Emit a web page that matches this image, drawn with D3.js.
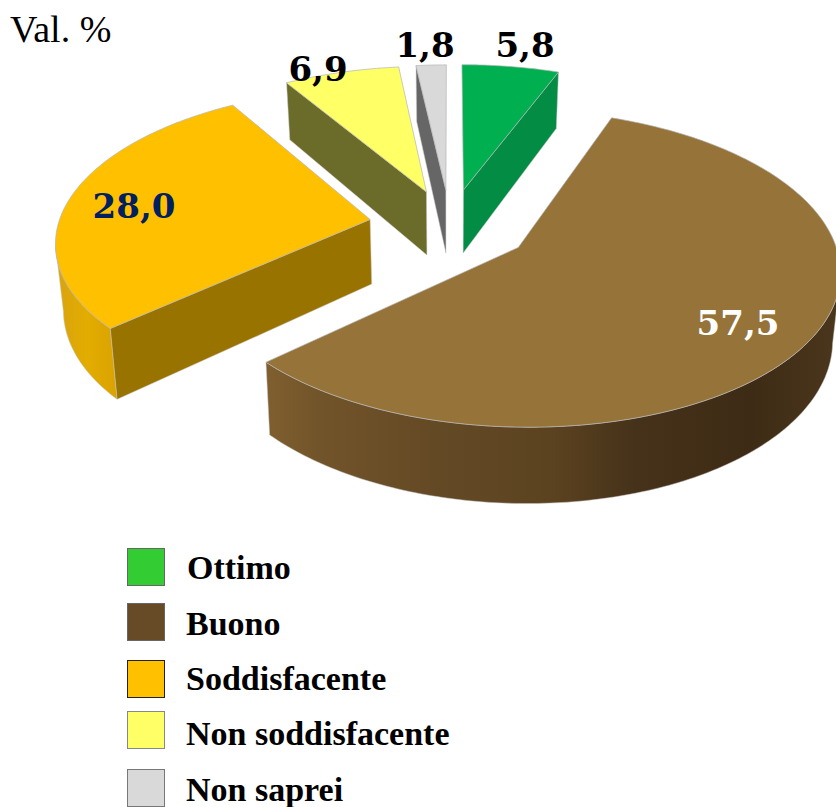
<!DOCTYPE html>
<html><head><meta charset="utf-8">
<script src="https://cdn.jsdelivr.net/npm/d3@7"></script>
<style>html,body{margin:0;padding:0;background:#fff}svg{display:block}</style>
</head><body><svg id="c" width="836" height="807"></svg>
<script>
// data
const categories = ["Ottimo","Buono","Soddisfacente","Non soddisfacente","Non saprei"];
const values = [5.8,57.5,28.0,6.9,1.8];
const valueLabels = ["5,8","57,5","28,0","6,9","1,8"];
const yAxisTitle = "Val. %";
// styles
const topColors = ["#00B050","#967338","#FFC000","#FFFF66","#D9D9D9"];
const wallColors = ["#038C43","#604622","#997300","#6B6B2A","#666666"];
const legendColors = ["#33CC33","#664B26","#FFC000","#FFFF66","#D9D9D9"];
const legendStrokes = ["#666","#666","#222","#888","#777"];
const labelColors = ["#000","#fff","#002060","#000","#000"];
// layout: projection of the pie plane
const cx=450, cy=225, A=312, B=150, persp=0.13, depth=65, baseShrink=0.98;
const explode=[0.245,0.26,0.26,0.24,0.24];
const drawOrder=[3,4,0,2,1];
const labelAnchors=[[525,57],[738,335],[134,218],[318,81],[425,57]];
const legendTops=[548,603,660,711,769];
const legendBaselines=[579,635,690,745,801];
const legendTextX=[187,186,186,186,186];

const svg=d3.select("#c");
const sx=d3.scaleLinear().domain([-1,1]).range([cx-A,cx+A]);
const sy=d3.scaleLinear().domain([-1,1]).range([cy+B,cy-B]);
function proj(px,py,bottom){
  const W=1+persp*py;
  const x=sx(px/W), y=sy(py/W);
  if(!bottom) return [x,y];
  return [cx+(x-cx)*baseShrink, y+depth/W];
}
const pie=d3.pie().sort(null).startAngle(0).endAngle(2*Math.PI);
const arcs=pie(values);
const line=d3.line().curve(d3.curveLinear);
function area2(p){let s=0;p.forEach((a,i)=>{const b=p[(i+1)%p.length];s+=a[0]*b[1]-b[0]*a[1]});return s/2;}

const defs=svg.append("defs");
const grad=defs.append("linearGradient").attr("id","brownWall")
  .attr("gradientUnits","userSpaceOnUse").attr("x1",262).attr("x2",836).attr("y1",0).attr("y2",0);
[[0,"#80602F"],[0.1,"#72542A"],[0.3,"#644925"],[0.5,"#5C4320"],[0.65,"#46321A"],[0.85,"#3E2B15"],[1,"#4A361C"]]
  .forEach(d=>grad.append("stop").attr("offset",d[0]).attr("stop-color",d[1]));
const og=defs.append("linearGradient").attr("id","orangeWall")
  .attr("gradientUnits","userSpaceOnUse").attr("x1",58).attr("x2",118).attr("y1",0).attr("y2",0);
[[0,"#D9A40E"],[0.5,"#E3AC00"],[1,"#D9A200"]].forEach(d=>og.append("stop").attr("offset",d[0]).attr("stop-color",d[1]));
const curvedFill=i=>i===1?"url(#brownWall)":i===2?"url(#orangeWall)":wallColors[i];

const g=svg.append("g");
drawOrder.forEach(i=>{
  const a=arcs[i], mid=(a.startAngle+a.endAngle)/2;
  const ox=explode[i]*Math.sin(mid), oy=explode[i]*Math.cos(mid);
  const pt=(t,r,b)=>proj(ox+r*Math.sin(t),oy+r*Math.cos(t),b);
  const n=Math.max(8,Math.round((a.endAngle-a.startAngle)*60));
  const ts=d3.range(n+1).map(k=>a.startAngle+(a.endAngle-a.startAngle)*k/n);
  // curved outer wall: only the part whose x runs leftward as the angle grows
  const vis=ts.filter((t,k)=>{
    const next=ts[Math.min(k+1,n)],prev=ts[Math.max(k-1,0)];
    return pt(next,1)[0]<pt(prev,1)[0];
  });
  if(vis.length>1){
    const poly=vis.map(t=>pt(t,1)).concat(vis.slice().reverse().map(t=>pt(t,1,true)));
    g.append("path").attr("d",line(poly)+"Z").attr("fill",curvedFill(i)).attr("stroke","#c8c8c8").attr("stroke-width",0.5);
  }
  // radial walls, with back-face culling
  const qs=[[pt(0,0),pt(a.startAngle,1),pt(a.startAngle,1,true),pt(0,0,true)],
            [pt(0,0),pt(a.endAngle,1),pt(a.endAngle,1,true),pt(0,0,true)]];
  if(area2(qs[0])<-200) g.append("path").attr("d",line(qs[0])+"Z").attr("fill",wallColors[i]).attr("stroke","#c8c8c8").attr("stroke-width",0.5);
  if(area2(qs[1])>200) g.append("path").attr("d",line(qs[1])+"Z").attr("fill",wallColors[i]).attr("stroke","#c8c8c8").attr("stroke-width",0.5);
  // top face
  const top=[pt(0,0)].concat(ts.map(t=>pt(t,1)));
  g.append("path").attr("d",line(top)+"Z").attr("fill",topColors[i]).attr("stroke","#b5b5b5").attr("stroke-width",0.7).attr("stroke-linejoin","round");
});

svg.selectAll("text.v").data(valueLabels).join("text").attr("class","v")
  .attr("x",(d,i)=>labelAnchors[i][0]).attr("y",(d,i)=>labelAnchors[i][1])
  .attr("text-anchor","middle").attr("font-family","'DejaVu Serif',serif").attr("font-weight","bold")
  .attr("font-size",34).attr("fill",(d,i)=>labelColors[i]).text(d=>d);

svg.append("text").attr("x",10).attr("y",42).attr("font-family","'Liberation Serif',serif")
  .attr("font-size",38).attr("fill","#000").text(yAxisTitle);

svg.selectAll("rect.l").data(categories).join("rect").attr("class","l")
  .attr("x",127.5).attr("y",(d,i)=>legendTops[i]+0.5).attr("width",37).attr("height",37)
  .attr("fill",(d,i)=>legendColors[i]).attr("stroke",(d,i)=>legendStrokes[i]).attr("stroke-width",1);
svg.selectAll("text.l").data(categories).join("text").attr("class","l")
  .attr("x",(d,i)=>legendTextX[i]).attr("y",(d,i)=>legendBaselines[i])
  .attr("font-family","'Liberation Serif',serif").attr("font-weight","bold")
  .attr("font-size",34).attr("fill","#000").text(d=>d);
</script></body></html>
